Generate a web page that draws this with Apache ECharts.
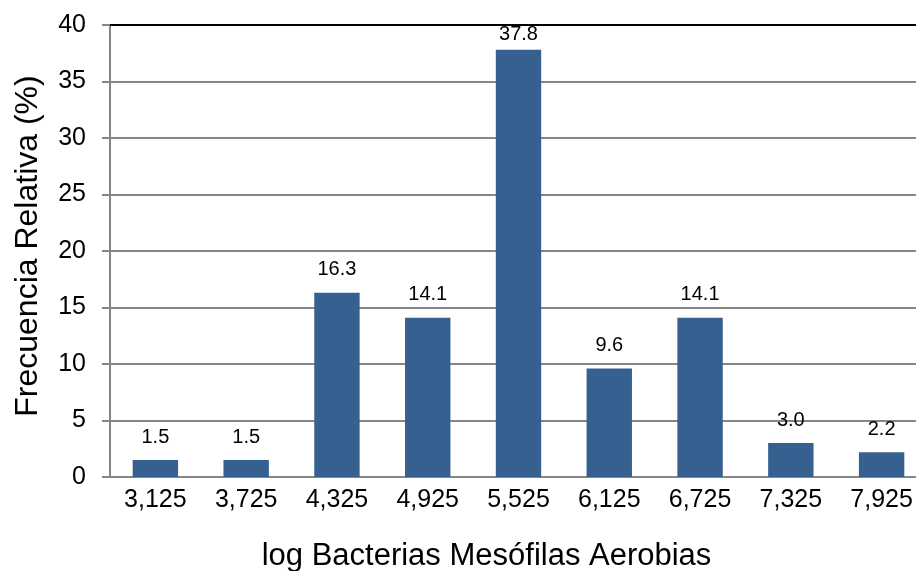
<!DOCTYPE html>
<html><head><meta charset="utf-8">
<script src="https://cdn.jsdelivr.net/npm/echarts@6/dist/echarts.min.js"></script>
<style>html,body{margin:0;padding:0;background:#fff}#c{width:916px;height:571px}</style>
</head><body><div id="c"></div>
<script>
const categories = ['3,125','3,725','4,325','4,925','5,525','6,125','6,725','7,325','7,925'];
const values = [1.5, 1.5, 16.3, 14.1, 37.8, 9.6, 14.1, 3.0, 2.2];
const yTicks = [0, 5, 10, 15, 20, 25, 30, 35, 40];

const chart = echarts.init(document.getElementById('c'), null, {renderer: 'canvas'});
const font = 'Liberation Sans, Arial, sans-serif';
const yMax = yTicks[yTicks.length - 1];
// labels near the top of the plot are squeezed closer to their bars
const barData = values.map(v => (v > yMax - 4 ? {value: v, label: {distance: 5}} : v));
chart.setOption({
  animation: false,
  grid: {left: 110, top: 25, width: 817, height: 452, containLabel: false, outerBoundsMode: 'none'},
  xAxis: [{
    type: 'category', data: categories,
    axisLine: {lineStyle: {color: '#868686', width: 2}},
    axisTick: {show: false},
    axisLabel: {color: '#000', fontFamily: font, fontSize: 25, margin: 11},
    name: 'log Bacterias Mesófilas Aerobias', nameLocation: 'middle', nameGap: 64,
    nameTextStyle: {color: '#000', fontFamily: font, fontSize: 31, padding: [0, 64, 0, 0]}
  }, {
    type: 'category', data: categories, position: 'top',
    axisLine: {lineStyle: {color: '#000', width: 2}},
    axisTick: {show: false}, axisLabel: {show: false}
  }],
  yAxis: {
    type: 'value', min: yTicks[0], max: yMax, interval: 5,
    axisLine: {show: true, lineStyle: {color: '#868686', width: 2}},
    axisTick: {show: true, length: 8, lineStyle: {color: '#868686', width: 2}},
    splitLine: {lineStyle: {color: '#868686', width: 2}},
    axisLabel: {color: '#000', fontFamily: font, fontSize: 25, margin: 24},
    name: 'Frecuencia Relativa (%)', nameLocation: 'middle', nameGap: 66,
    nameTextStyle: {color: '#000', fontFamily: font, fontSize: 32, padding: [0, 0, 0, 10]}
  },
  series: [{
    type: 'bar', data: barData, barCategoryGap: '50%',
    itemStyle: {color: '#36608F'},
    label: {show: true, position: 'top', distance: 13, color: '#000',
      fontFamily: font, fontSize: 20,
      formatter: p => p.value.toFixed(1)}
  }]
});
</script></body></html>
